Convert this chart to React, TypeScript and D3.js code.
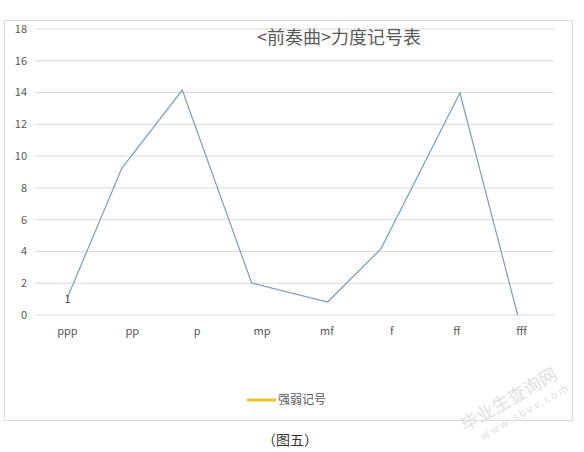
import React from 'react';
import * as d3 from 'd3';

const categories = ['ppp', 'pp', 'p', 'mp', 'mf', 'f', 'ff', 'fff'];
// where each point sits along the category axis (the source line is not exactly on the band centres)
const pointPositions = [0, 0.84, 1.77, 2.84, 4.01, 4.83, 6.05, 6.94];
const values = [1.1, 9.25, 14.16, 2.01, 0.82, 4.15, 13.97, 0];
const yTicks = [0, 2, 4, 6, 8, 10, 12, 14, 16, 18];
const title = '<前奏曲>力度记号表';
const seriesName = '强弱记号';
const caption = '（图五）';

const W = 584;
const H = 452;
const font = '"Noto Sans CJK SC", "Noto Sans", sans-serif';
const textColor = '#595959';

export default function App() {
  const plot = { left: 35, right: 554, top: 29, bottom: 315 };

  const x = d3.scaleBand<string>().domain(categories).range([plot.left, plot.right]);
  const half = x.bandwidth() / 2;
  const pos = d3
    .scaleLinear()
    .domain([0, categories.length - 1])
    .range([(x(categories[0]) ?? 0) + half, (x(categories[categories.length - 1]) ?? 0) + half]);
  const y = d3.scaleLinear().domain([0, 18]).range([plot.bottom, plot.top]);

  const points = values.map((v, i) => [pos(pointPositions[i]), y(v)] as [number, number]);
  const line = d3.line()(points) ?? '';

  return (
    <svg
      width={W}
      height={H}
      style={{ position: 'absolute', left: 0, top: 0, background: '#fff' }}
      fontFamily={font}
    >
      <rect x={0} y={0} width={W} height={H} fill="#fff" />
      {/* chart frame */}
      <rect x={4.5} y={20.5} width={568} height={400} fill="#fff" stroke="#d9d9d9" />

      {/* gridlines + y labels */}
      {yTicks.map(t => (
        <g key={t}>
          <line x1={plot.left} x2={plot.right} y1={y(t)} y2={y(t)} stroke="#d9d9d9" strokeWidth={1} />
          <text x={27} y={y(t)} dy="0.35em" textAnchor="end" fontSize={11} fill={textColor}>
            {t}
          </text>
        </g>
      ))}

      {/* x labels */}
      {categories.map(c => (
        <text
          key={c}
          x={(x(c) ?? 0) + half}
          y={331}
          dy="0.35em"
          textAnchor="middle"
          fontSize={11}
          fill={textColor}
        >
          {c}
        </text>
      ))}

      <text x={339} y={38} dy="0.35em" textAnchor="middle" fontSize={18} fill={textColor}>
        {title}
      </text>

      <path d={line} fill="none" stroke="#7b9dbf" strokeWidth={1.2} />

      {/* data label on the first point */}
      <text x={points[0][0]} y={points[0][1] + 2} dy="0.35em" textAnchor="middle" fontSize={11} fill="#404040">
        {d3.format('.0f')(values[0])}
      </text>

      {/* legend */}
      <line x1={247} x2={276} y1={400} y2={400} stroke="#f2c12e" strokeWidth={3} />
      <text x={278} y={400} dy="0.35em" fontSize={12} fill={textColor}>
        {seriesName}
      </text>

      <text x={290} y={440} dy="0.35em" textAnchor="middle" fontSize={14} fill="#333">
        {caption}
      </text>

      {/* watermark */}
      <g transform="translate(512,405) rotate(-30)" fill="#e0e0e0">
        <text x={0} y={0} textAnchor="middle" fontSize={18}>
          毕业生查询网
        </text>
        <text x={8} y={16} textAnchor="middle" fontSize={11} letterSpacing={2}>
          www.sbvv.com
        </text>
      </g>
    </svg>
  );
}
